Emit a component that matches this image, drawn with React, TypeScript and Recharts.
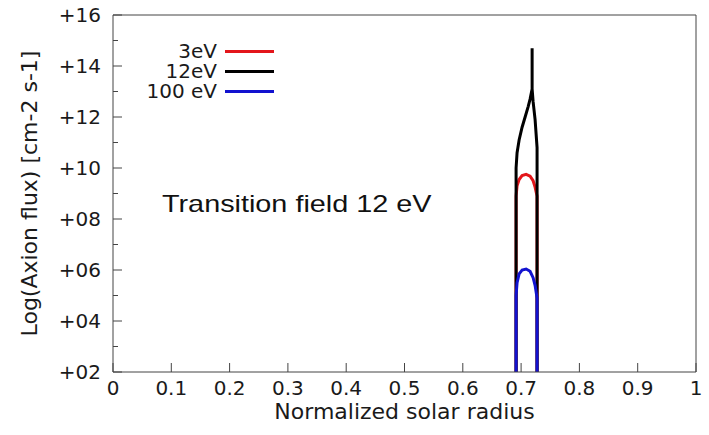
import { LineChart, Line, XAxis, YAxis, Label } from "recharts";

// normalized radius r vs log10 flux f
const flux3eV = [
  { r: 0.6914, f: 2 },
  { r: 0.6914, f: 8.9 },
  { r: 0.6931, f: 9.3 },
  { r: 0.6966, f: 9.55 },
  { r: 0.7017, f: 9.7 },
  { r: 0.7086, f: 9.75 },
  { r: 0.7154, f: 9.68 },
  { r: 0.7206, f: 9.5 },
  { r: 0.724, f: 9.25 },
  { r: 0.7274, f: 8.9 },
  { r: 0.7274, f: 2 },
];

const flux12eV = [
  { r: 0.6914, f: 2 },
  { r: 0.6914, f: 10.0 },
  { r: 0.6931, f: 10.6 },
  { r: 0.6966, f: 11.1 },
  { r: 0.7017, f: 11.6 },
  { r: 0.7069, f: 12.0 },
  { r: 0.712, f: 12.4 },
  { r: 0.7154, f: 12.7 },
  { r: 0.7189, f: 13.1 },
  { r: 0.7189, f: 14.7 },
  { r: 0.7189, f: 13.1 },
  { r: 0.7206, f: 12.6 },
  { r: 0.724, f: 11.9 },
  { r: 0.7274, f: 10.8 },
  { r: 0.7274, f: 2 },
];

const flux100eV = [
  { r: 0.6914, f: 2 },
  { r: 0.6914, f: 5.0 },
  { r: 0.6931, f: 5.5 },
  { r: 0.6966, f: 5.85 },
  { r: 0.7017, f: 6.0 },
  { r: 0.7086, f: 6.04 },
  { r: 0.7154, f: 5.95 },
  { r: 0.7206, f: 5.7 },
  { r: 0.724, f: 5.4 },
  { r: 0.7274, f: 4.9 },
  { r: 0.7274, f: 2 },
];

const seriesNames = ["3eV", "12eV", "100 eV"];
const seriesColors = ["#e3161b", "#000000", "#1212cf"];

const xTicks = [0, 0.1, 0.2, 0.3, 0.4, 0.5, 0.6, 0.7, 0.8, 0.9, 1];
const yTicks = [2, 3, 4, 5, 6, 7, 8, 9, 10, 11, 12, 13, 14, 15, 16];

const FRAME = "#444";
const TICK_FONT = "'DejaVu Sans', sans-serif";

const fmtY = (v: number) => "+" + String(v).padStart(2, "0");
const fmtX = (v: number) => (v === 0 || v === 1 ? String(v) : v.toFixed(1));

function LeftTick({ x, y, payload }: any) {
  const major = payload.value % 2 === 0;
  return (
    <g>
      <line x1={x} x2={x + (major ? 9 : 5)} y1={y} y2={y} stroke={FRAME} />
      {major && (
        <text x={x - 12} y={y} dy="0.36em" textAnchor="end" fontSize={20} fontFamily={TICK_FONT} fill="#1a1a1a">
          {fmtY(payload.value)}
        </text>
      )}
    </g>
  );
}

function RightTick({ x, y, payload }: any) {
  const major = payload.value % 2 === 0;
  return <line x1={x} x2={x - (major ? 9 : 5)} y1={y} y2={y} stroke={FRAME} />;
}

function BottomTick({ x, y, payload }: any) {
  return (
    <g>
      <line x1={x} x2={x} y1={y} y2={y - 9} stroke={FRAME} />
      <text x={x} y={y + 23} textAnchor="middle" fontSize={20} fontFamily={TICK_FONT} fill="#1a1a1a">
        {fmtX(payload.value)}
      </text>
    </g>
  );
}

function TopTick({ x, y }: any) {
  return <line x1={x} x2={x} y1={y} y2={y + 9} stroke={FRAME} />;
}

export default function App() {
  return (
    <div style={{ position: "absolute", left: 0, top: 0, width: 709, height: 435, background: "#fff" }}>
      <LineChart width={709} height={435} margin={{ top: 0, right: 0, bottom: 0, left: 0 }}>
        <XAxis
          xAxisId={0}
          dataKey="r"
          type="number"
          domain={[0, 1]}
          ticks={xTicks}
          interval={0}
          height={63}
          tickSize={0}
          tickMargin={0}
          tickLine={false}
          tick={<BottomTick />}
          axisLine={{ stroke: FRAME }}
        >
          <Label
            value="Normalized solar radius"
            position="center"
            dy={8}
            style={{ fontSize: 22, fontFamily: TICK_FONT, fill: "#1a1a1a" }}
          />
        </XAxis>
        <XAxis
          xAxisId="top"
          orientation="top"
          dataKey="r"
          type="number"
          domain={[0, 1]}
          ticks={xTicks}
          interval={0}
          height={15}
          tickSize={0}
          tickMargin={0}
          tickLine={false}
          tick={<TopTick />}
          axisLine={{ stroke: FRAME }}
        />
        <YAxis
          yAxisId={0}
          type="number"
          domain={[2, 16]}
          ticks={yTicks}
          interval={0}
          width={113}
          tickSize={0}
          tickMargin={0}
          tickLine={false}
          tick={<LeftTick />}
          axisLine={{ stroke: FRAME }}
        >
          <Label
            value="Log(Axion flux) [cm-2 s-1]"
            angle={-90}
            position="center"
            dx={-27}
            style={{ fontSize: 22, fontFamily: TICK_FONT, fill: "#1a1a1a", textAnchor: "middle" }}
          />
        </YAxis>
        <YAxis
          yAxisId="right"
          orientation="right"
          type="number"
          domain={[2, 16]}
          ticks={yTicks}
          interval={0}
          width={13}
          tickSize={0}
          tickMargin={0}
          tickLine={false}
          tick={<RightTick />}
          axisLine={{ stroke: FRAME }}
        />
        <Line data={flux3eV} dataKey="f" name={seriesNames[0]} type="linear" stroke={seriesColors[0]} strokeWidth={3} dot={false} isAnimationActive={false} />
        <Line data={flux12eV} dataKey="f" name={seriesNames[1]} type="linear" stroke={seriesColors[1]} strokeWidth={3} dot={false} isAnimationActive={false} />
        <Line data={flux100eV} dataKey="f" name={seriesNames[2]} type="linear" stroke={seriesColors[2]} strokeWidth={3} dot={false} isAnimationActive={false} />
      </LineChart>

      {/* legend, top left inside the frame */}
      <div style={{ position: "absolute", left: 120, top: 41, fontFamily: TICK_FONT, fontSize: 20, color: "#1a1a1a" }}>
        {seriesNames.map((n, i) => (
          <div key={n} style={{ display: "flex", alignItems: "center", height: 20, lineHeight: "20px" }}>
            <span style={{ width: 97, textAlign: "right" }}>{n}</span>
            <span style={{ display: "inline-block", marginLeft: 8, width: 49, height: 3, background: seriesColors[i] }} />
          </div>
        ))}
      </div>

      <div
        style={{
          position: "absolute",
          left: 162,
          top: 190,
          fontFamily: "'Liberation Sans', Arial, sans-serif",
          fontSize: 24,
          lineHeight: "28px",
          color: "#111",
          transform: "scaleX(1.2)",
          transformOrigin: "left center",
          whiteSpace: "nowrap",
        }}
      >
        Transition field 12 eV
      </div>
    </div>
  );
}
